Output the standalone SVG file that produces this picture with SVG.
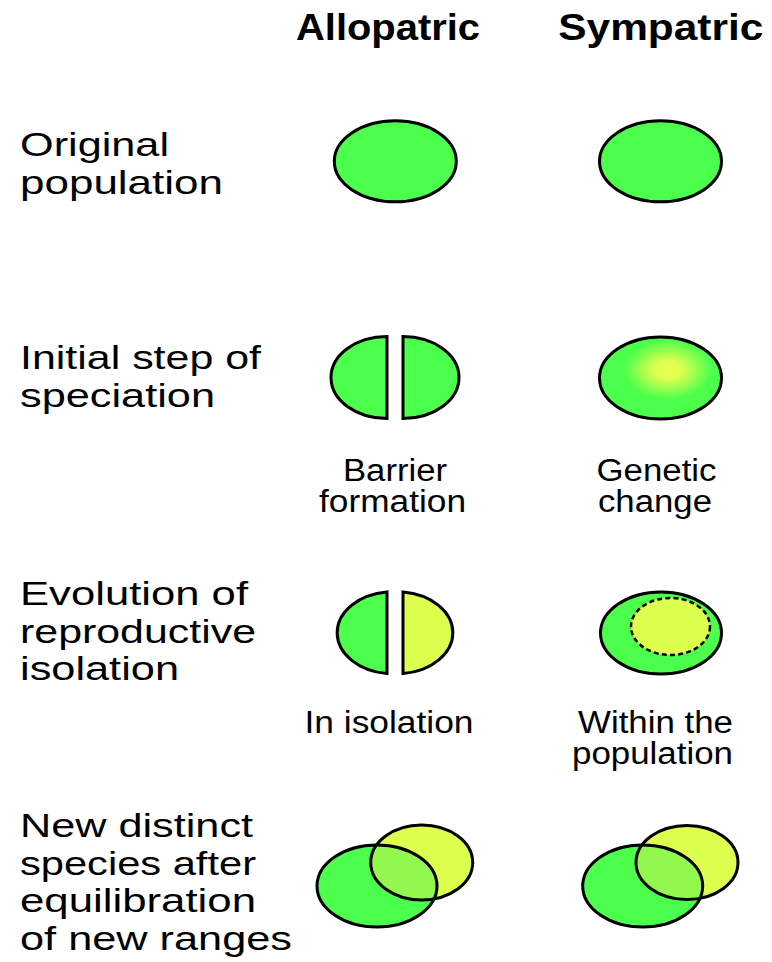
<svg xmlns="http://www.w3.org/2000/svg" width="772" height="962" viewBox="0 0 772 962">
<defs>
<style>
.lbl{font-family:"Liberation Sans",Arial,sans-serif;font-size:34px;fill:#000}
.sub{font-family:"Liberation Sans",Arial,sans-serif;font-size:31px;fill:#000;text-anchor:middle}
.hdr{font-family:"Liberation Sans",Arial,sans-serif;font-size:36px;font-weight:bold;fill:#000;text-anchor:middle}
.g{fill:#4dff4d;stroke:#000;stroke-width:3}
.y{fill:#ddff4d;stroke:#000;stroke-width:3}
.ol{fill:none;stroke:#000;stroke-width:3}
</style>
<radialGradient id="gc" cx="0.56" cy="0.40" r="0.36">
<stop offset="0" stop-color="#e6ff52"/>
<stop offset="0.3" stop-color="#e0ff50"/>
<stop offset="1" stop-color="#4dff4d"/>
</radialGradient>
<clipPath id="cA"><ellipse cx="377" cy="886" rx="60" ry="41"/></clipPath>
<clipPath id="cS"><ellipse cx="642.7" cy="886" rx="60" ry="41"/></clipPath>
</defs>
<rect width="772" height="962" fill="#fff"/>

<g id="headers">
<text class="hdr" x="388" y="39.5" textLength="184" lengthAdjust="spacingAndGlyphs">Allopatric</text>
<text class="hdr" x="660.8" y="39.5" textLength="205" lengthAdjust="spacingAndGlyphs">Sympatric</text>
</g>

<g id="row-labels">
<text class="lbl" x="20" y="156" textLength="149" lengthAdjust="spacingAndGlyphs">Original</text>
<text class="lbl" x="20" y="194" textLength="203" lengthAdjust="spacingAndGlyphs">population</text>
<text class="lbl" x="20" y="369" textLength="241" lengthAdjust="spacingAndGlyphs">Initial step of</text>
<text class="lbl" x="20" y="407" textLength="195" lengthAdjust="spacingAndGlyphs">speciation</text>
<text class="lbl" x="20" y="605" textLength="228" lengthAdjust="spacingAndGlyphs">Evolution of</text>
<text class="lbl" x="20" y="642.5" textLength="236" lengthAdjust="spacingAndGlyphs">reproductive</text>
<text class="lbl" x="20" y="680" textLength="159" lengthAdjust="spacingAndGlyphs">isolation</text>
<text class="lbl" x="20" y="837" textLength="233" lengthAdjust="spacingAndGlyphs">New distinct</text>
<text class="lbl" x="20" y="874.5" textLength="236" lengthAdjust="spacingAndGlyphs">species after</text>
<text class="lbl" x="20" y="912" textLength="236" lengthAdjust="spacingAndGlyphs">equilibration</text>
<text class="lbl" x="20" y="949.5" textLength="272" lengthAdjust="spacingAndGlyphs">of new ranges</text>
</g>

<g id="allo-original">
<ellipse class="g" cx="395.3" cy="161.3" rx="61" ry="40.5"/>
</g>
<g id="sym-original">
<ellipse class="g" cx="660.5" cy="161.3" rx="61" ry="40.5"/>
</g>

<g id="allo-initial">
<path class="g" d="M387,336.5 A56,41 0 0 0 387,418.5 Z"/>
<path class="g" d="M403,336.5 A56,41 0 0 1 403,418.5 Z"/>
<text class="sub" x="395" y="480.5" textLength="104" lengthAdjust="spacingAndGlyphs">Barrier</text>
<text class="sub" x="392.5" y="511.5" textLength="147" lengthAdjust="spacingAndGlyphs">formation</text>
</g>
<g id="sym-initial">
<ellipse cx="660.5" cy="378" rx="61" ry="41" fill="url(#gc)" stroke="#000" stroke-width="3"/>
<text class="sub" x="656.5" y="480.5" textLength="120" lengthAdjust="spacingAndGlyphs">Genetic</text>
<text class="sub" x="655" y="511.5" textLength="114" lengthAdjust="spacingAndGlyphs">change</text>
</g>

<g id="allo-evolution">
<path class="g" d="M387,592 A56,41 0 0 0 387,673.5 Z"/>
<path class="y" d="M403,592 A56,41 0 0 1 403,673.5 Z"/>
<text class="sub" x="389" y="733" textLength="169" lengthAdjust="spacingAndGlyphs">In isolation</text>
</g>
<g id="sym-evolution">
<ellipse class="g" cx="661" cy="633" rx="60.5" ry="41"/>
<ellipse cx="670.5" cy="626.5" rx="39.5" ry="28.5" fill="#ddff4d" stroke="#000" stroke-width="2.5" stroke-dasharray="5,3.2"/>
<text class="sub" x="655.5" y="733" textLength="155" lengthAdjust="spacingAndGlyphs">Within the</text>
<text class="sub" x="652.5" y="764" textLength="161" lengthAdjust="spacingAndGlyphs">population</text>
</g>

<g id="allo-new">
<ellipse cx="377" cy="886" rx="60" ry="41" fill="#4dff4d"/>
<ellipse cx="421.7" cy="862.5" rx="51" ry="37.5" fill="#ddff4d"/>
<ellipse cx="421.7" cy="862.5" rx="51" ry="37.5" fill="#92f84e" clip-path="url(#cA)"/>
<ellipse class="ol" cx="421.7" cy="862.5" rx="51" ry="37.5"/>
<ellipse class="ol" cx="377" cy="886" rx="60" ry="41"/>
</g>
<g id="sym-new">
<ellipse cx="642.7" cy="886" rx="60" ry="41" fill="#4dff4d"/>
<ellipse cx="687" cy="862.5" rx="51" ry="37" fill="#ddff4d"/>
<ellipse cx="687" cy="862.5" rx="51" ry="37" fill="#92f84e" clip-path="url(#cS)"/>
<ellipse class="ol" cx="687" cy="862.5" rx="51" ry="37"/>
<ellipse class="ol" cx="642.7" cy="886" rx="60" ry="41"/>
</g>
</svg>
